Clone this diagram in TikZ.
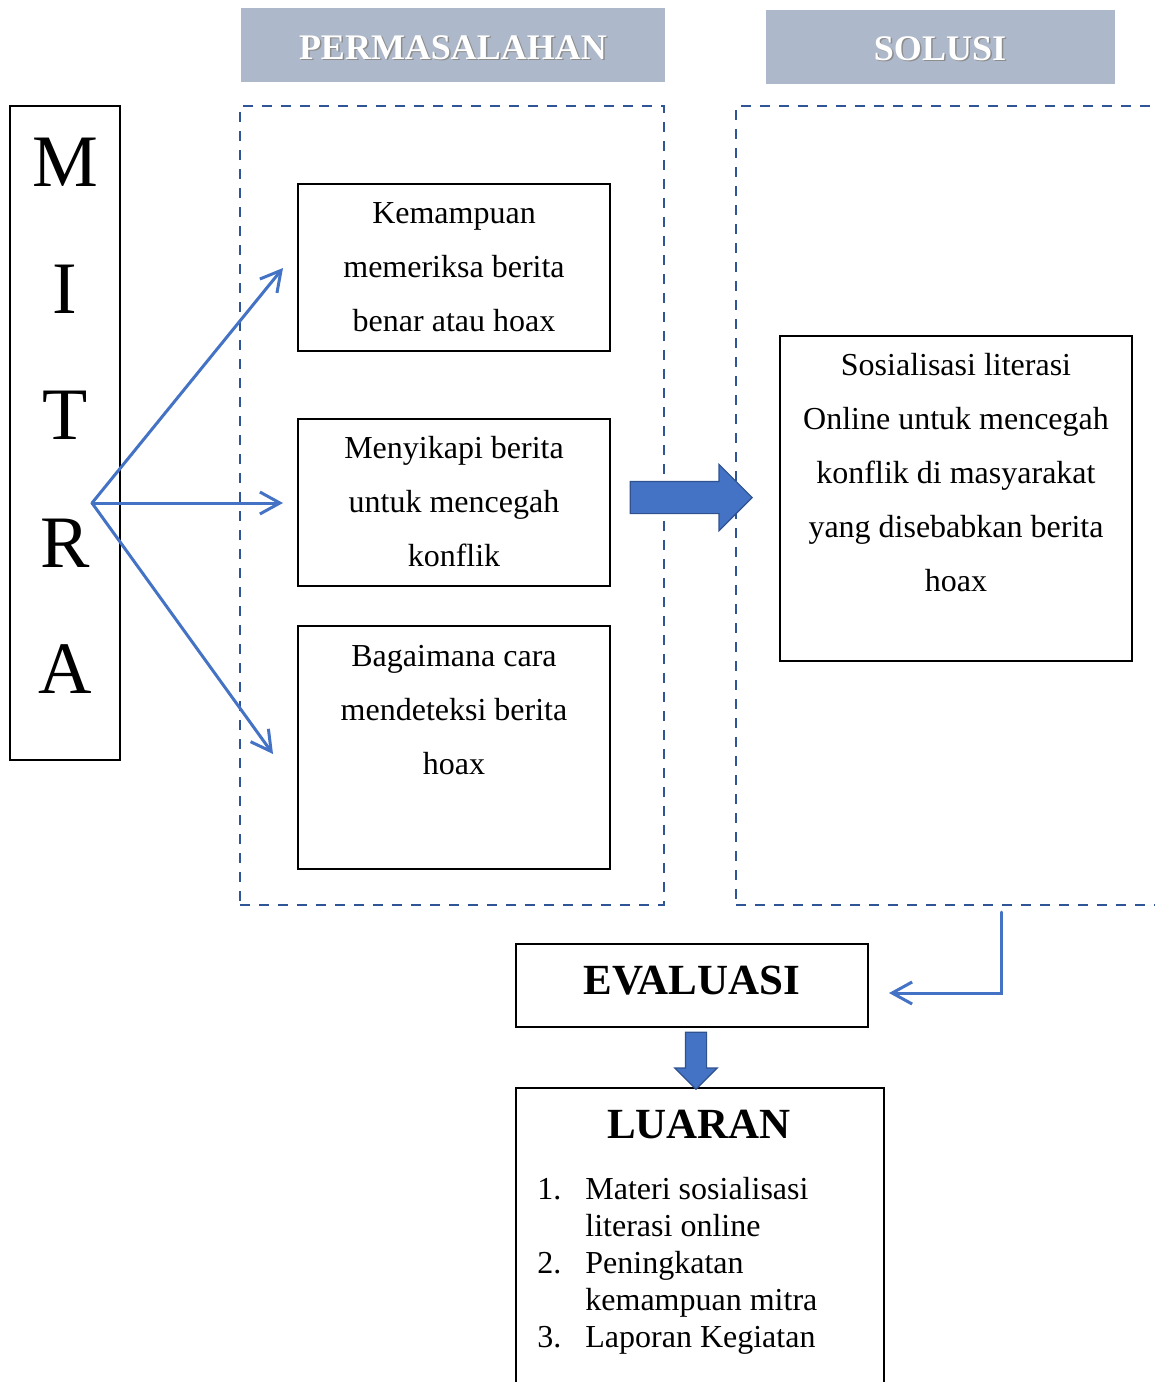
\documentclass[tikz,border=0pt]{standalone}
\usepackage{fontspec}
\setmainfont{Liberation Serif}
\usepackage{xcolor}
\usetikzlibrary{arrows.meta,shapes.arrows}
\definecolor{arrowblue}{HTML}{4472C4}
\definecolor{arrowedge}{HTML}{2F528F}
\definecolor{dashblue}{HTML}{2F5597}
\definecolor{headgray}{HTML}{ADB9CA}

\tikzset{
	box/.style={draw=black, line width=0.9pt, inner sep=0pt},
	dashbox/.style={draw=dashblue, line width=1.3pt, dash pattern=on 5pt off 4.5pt, inner sep=0pt},
	headbox/.style={fill=headgray, inner sep=0pt, minimum height=37pt},
	headtext/.style={font=\fontsize{18}{20}\selectfont\bfseries, text=white, anchor=base, inner sep=0pt},
	headshadow/.style={headtext, text=black!45},
	letter/.style={font=\fontsize{37}{40}\selectfont, anchor=base, inner sep=0pt},
	boxtext/.style={font=\fontsize{16}{27}\selectfont, align=flush center, text width=170pt, anchor=base, inner sep=0pt},
	bigtitle/.style={font=\fontsize{21.5}{24}\selectfont\bfseries, anchor=base, inner sep=0pt},
	fan/.style={draw=arrowblue, line width=1.5pt, line cap=round, -{Straight Barb[length=10pt,width=11pt]}},
	blockarrow/.style={single arrow, fill=arrowblue, draw=arrowedge, line width=0.6pt, inner sep=0pt, text width=0pt}
}

\begin{document}
\begin{tikzpicture}[x=0.5pt,y=-0.5pt]
	\useasboundingbox (0,0) rectangle (1155,1382);
	\clip (0,0) rectangle (1155,1382);
%	headers
	\node[headbox, minimum width=212pt] (permhead) at (453,45) {};
	\node[headbox, minimum width=174.5pt] (solhead) at (940.5,47) {};
	\node[headshadow] (permshadow) at (454.5,60.5) {PERMASALAHAN};
	\node[headtext] (permtitle) at (453,59) {PERMASALAHAN};
	\node[headshadow] (solshadow) at (941.5,61.5) {SOLUSI};
	\node[headtext] (soltitle) at (940,60) {SOLUSI};
%	dashed frames
	\node[dashbox, minimum width=212pt, minimum height=399.5pt] (permframe) at (452,505.5) {};
	\node[dashbox, minimum width=222pt, minimum height=399.5pt] (solframe) at (958,505.5) {};
%	mitra
	\node[box, line width=0.8pt, minimum width=55pt, minimum height=327pt] (mitra) at (65,433) {};
	\node[letter] (mitraM) at (65,186) {M};
	\node[letter] (mitraI) at (65,313) {I};
	\node[letter] (mitraT) at (65,439) {T};
	\node[letter] (mitraR) at (65,567) {R};
	\node[letter] (mitraA) at (65,693) {A};
%	problem boxes
	\node[box, minimum width=156pt, minimum height=83.5pt] (kemampuan) at (454,267.5) {};
	\node[box, minimum width=156pt, minimum height=83.5pt] (menyikapi) at (454,502.5) {};
	\node[box, minimum width=156pt, minimum height=121.5pt] (mendeteksi) at (454,747.5) {};
	\node[boxtext] (kemampuantext) at (454,223) {Kemampuan\\memeriksa berita\\benar atau hoax};
	\node[boxtext] (menyikapitext) at (454,458) {Menyikapi berita\\untuk mencegah\\konflik};
	\node[boxtext] (mendeteksitext) at (454,666) {Bagaimana cara\\mendeteksi berita\\hoax};
%	solution box
	\node[box, minimum width=176pt, minimum height=162.5pt] (sosialisasi) at (956,498.5) {};
	\node[boxtext] (sosialisasitext) at (956,375) {Sosialisasi literasi\\Online untuk mencegah\\konflik di masyarakat\\yang disebabkan berita\\hoax};
%	evaluasi and luaran
	\node[box, minimum width=176pt, minimum height=41.5pt] (evaluasi) at (692,985.5) {};
	\node[bigtitle] (evaluasititle) at (692,994) {EVALUASI};
	\node[box, minimum width=184pt, minimum height=156pt] (luaran) at (700,1244) {};
	\node[bigtitle] (luarantitle) at (699,1138) {LUARAN};
	\node[anchor=base west, inner sep=0pt, font=\fontsize{16}{18.5}\selectfont] (luaranlist) at (537,1199)
		{\begin{tabular}[t]{@{}p{24pt}@{}l@{}}
			1. & Materi sosialisasi\\
			   & literasi online\\
			2. & Peningkatan\\
			   & kemampuan mitra\\
			3. & Laporan Kegiatan
		\end{tabular}};
%	fan arrows
	\coordinate (fan0) at (92,503);
	\coordinate (fan1) at (283,268);
	\coordinate (fan2) at (283,503);
	\coordinate (fan3) at (273,754);
	\draw[fan] (fan0) -- (fan1);
	\draw[fan] (fan0) -- (fan2);
	\draw[fan] (fan0) -- (fan3);
%	block arrows
	\node[blockarrow, anchor=tip, minimum height=61pt, text height=7.75pt, text depth=7.75pt, single arrow head extend=8.5pt] (tosolusi) at (753,497.5) {};
	\node[blockarrow, anchor=tip, rotate=-90, minimum height=28.5pt, text height=5pt, text depth=5pt, single arrow head extend=5.25pt] (toluaran) at (696,1090) {};
%	back to evaluasi
	\coordinate (elbow0) at (1001,912);
	\coordinate (elbow1) at (889,993);
	\draw[fan] (elbow0) |- (elbow1);
\end{tikzpicture}
\end{document}
